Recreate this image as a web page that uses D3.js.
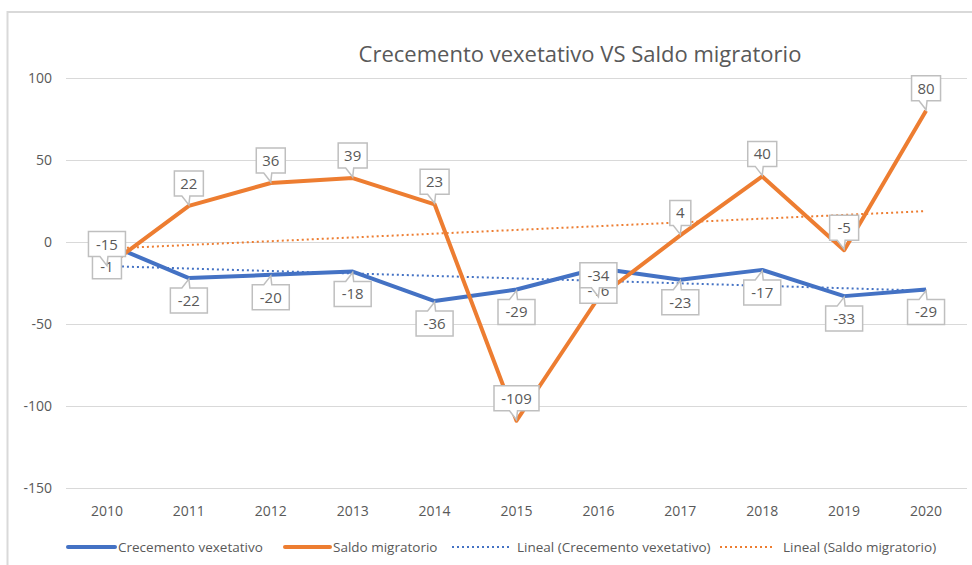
<!DOCTYPE html>
<html>
<head>
<meta charset="utf-8">
<script src="https://cdn.jsdelivr.net/npm/d3@7"></script>
<style>
  body { margin: 0; background: #fff; }
  text { font-family: "Open Sans", "Noto Sans", sans-serif; }
</style>
</head>
<body>
<div id="chart"></div>
<script>
// datos
const years = ["2010", "2011", "2012", "2013", "2014", "2015", "2016", "2017", "2018", "2019", "2020"];
const crecemento = [-1, -22, -20, -18, -36, -29, -16, -23, -17, -33, -29];
const saldo = [-15, 22, 36, 39, 23, -109, -34, 4, 40, -5, 80];
const yTicks = [100, 50, 0, -50, -100, -150];
const seriesNames = ["Crecemento vexetativo", "Saldo migratorio"];

const width = 972, height = 565;
const blue = "#4472C4", orange = "#ED7D31", grey = "#595959";

const svg = d3.select("#chart").append("svg")
    .attr("width", width)
    .attr("height", height);

// marco exterior
svg.append("rect")
    .attr("x", 7.5).attr("y", 12)
    .attr("width", 980).attr("height", 600)
    .attr("fill", "none")
    .attr("stroke", "#d9d9d9")
    .attr("stroke-width", 2);

const x = d3.scaleBand().domain(years).range([66, 967]);
const cx = d => x(d) + x.bandwidth() / 2;
const y = d3.scaleLinear().domain([-150, 100]).range([488, 78]);

// título
svg.append("text")
    .attr("x", 580).attr("y", 62)
    .attr("text-anchor", "middle")
    .attr("fill", grey)
    .style("font-size", "22px")
    .text("Crecemento vexetativo VS Saldo migratorio");

// grella
svg.append("g").selectAll("line")
    .data(yTicks)
    .enter().append("line")
    .attr("x1", 66).attr("x2", 967)
    .attr("y1", d => y(d) + 0.5).attr("y2", d => y(d) + 0.5)
    .attr("stroke", "#d9d9d9");

// eixo y
svg.append("g").selectAll("text")
    .data(yTicks)
    .enter().append("text")
    .attr("x", 52).attr("y", d => y(d))
    .attr("dy", "0.35em")
    .attr("text-anchor", "end")
    .attr("fill", grey)
    .style("font-size", "14px")
    .text(d => d);

// eixo x
svg.append("g").selectAll("text")
    .data(years)
    .enter().append("text")
    .attr("x", d => cx(d)).attr("y", 511)
    .attr("dy", "0.35em")
    .attr("text-anchor", "middle")
    .attr("fill", grey)
    .style("font-size", "14px")
    .text(d => d);

// liña de tendencia lineal (mínimos cadrados)
function trend(vals) {
    const n = vals.length;
    const xs = vals.map((v, i) => i);
    const mx = d3.mean(xs), my = d3.mean(vals);
    const b = d3.sum(xs, (xi, i) => (xi - mx) * (vals[i] - my)) / d3.sum(xs, xi => (xi - mx) * (xi - mx));
    const a = my - b * mx;
    return [a, a + b * (n - 1)];
}

const line = d3.line().x((d, i) => cx(years[i])).y(d => y(d));

[[crecemento, blue], [saldo, orange]].forEach(([vals, col]) => {
    const t = trend(vals);
    svg.append("line")
        .attr("x1", cx(years[0])).attr("y1", y(t[0]))
        .attr("x2", cx(years[years.length - 1])).attr("y2", y(t[1]))
        .attr("stroke", col)
        .attr("stroke-width", 2)
        .attr("stroke-dasharray", "2,3");
});

[[crecemento, blue], [saldo, orange]].forEach(([vals, col]) => {
    svg.append("path")
        .attr("d", line(vals))
        .attr("fill", "none")
        .attr("stroke", col)
        .attr("stroke-width", 4)
        .attr("stroke-linejoin", "round");
});

// etiquetas tipo globo
function callouts(vals, above) {
    const g = svg.append("g");
    vals.forEach((v, i) => {
        const px = cx(years[i]), py = y(v);
        const label = String(v);
        const w = label.length * 8 + 13, h = 25;
        const bx = px - w / 2;
        const by = above ? py - 10 - h : py + 10;
        const edge = above ? by + h : by;
        // forma: rectángulo con punta cara ao punto
        let path;
        if (above) {
            path = `M${bx},${by} H${bx + w} V${edge} H${px + 1} L${px},${py - 1} L${px - 7},${edge} H${bx} Z`;
        } else {
            path = `M${bx},${by + h} H${bx + w} V${edge} H${px + 1} L${px},${py + 1} L${px - 7},${edge} H${bx} Z`;
        }
        g.append("path")
            .attr("d", path)
            .attr("fill", "#fff")
            .attr("stroke", "#bfbfbf")
            .attr("stroke-width", 1.5);
        g.append("text")
            .attr("x", px).attr("y", by + h / 2)
            .attr("dy", "0.36em")
            .attr("text-anchor", "middle")
            .attr("fill", grey)
            .style("font-size", "15px")
            .text(label);
    });
}
callouts(crecemento, false);
callouts(saldo, true);

// lenda
const legendItems = [
    { name: seriesNames[0], col: blue, dash: null, x: 68, w: 47 },
    { name: seriesNames[1], col: orange, dash: null, x: 285, w: 45 },
    { name: "Lineal (" + seriesNames[0] + ")", col: blue, dash: "2,3", x: 452, w: 57 },
    { name: "Lineal (" + seriesNames[1] + ")", col: orange, dash: "2,3", x: 720, w: 55 }
];
const lg = svg.append("g");
legendItems.forEach(it => {
    lg.append("line")
        .attr("x1", it.x).attr("x2", it.x + it.w)
        .attr("y1", 547).attr("y2", 547)
        .attr("stroke", it.col)
        .attr("stroke-width", it.dash ? 2 : 4)
        .attr("stroke-linecap", it.dash ? "butt" : "round")
        .attr("stroke-dasharray", it.dash);
    lg.append("text")
        .attr("x", it.x + it.w + (it.dash ? 8 : 3)).attr("y", 547)
        .attr("dy", "0.35em")
        .attr("fill", grey)
        .style("font-size", "13.5px")
        .text(it.name);
});
</script>
</body>
</html>
